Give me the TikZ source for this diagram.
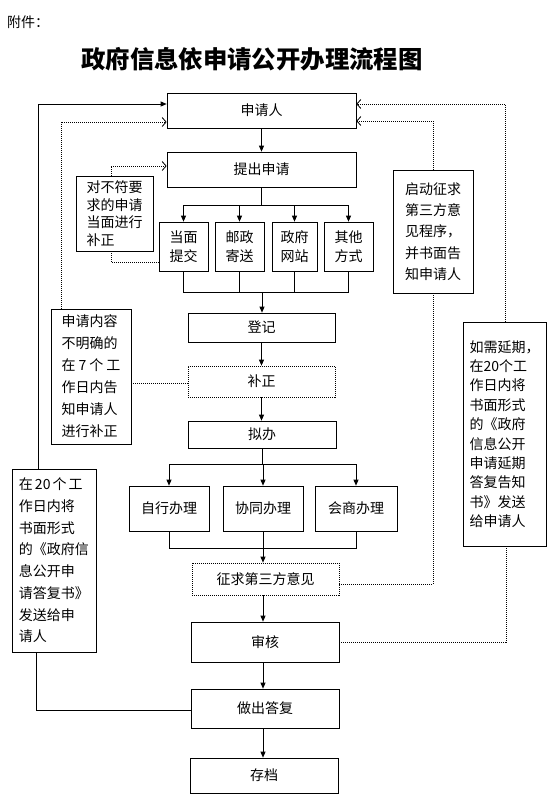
\documentclass[tikz,border=0pt]{standalone}
\usepackage{fontspec}
\newfontfamily\cjk{Noto Sans CJK SC}
\usetikzlibrary{arrows.meta}
\begin{document}
\begin{tikzpicture}[x=1pt,y=-1pt,
  box/.style={draw, line width=0.7pt, inner sep=0pt, font=\cjk\fontsize{14}{16}\selectfont},
  dbox/.style={box, dash pattern=on 1pt off 1pt},
  side/.style={box, align=left},
  small/.style={box, align=center, font=\cjk\fontsize{14}{19}\selectfont, minimum width=49pt, minimum height=49pt},
  mid/.style={box, minimum width=80pt, minimum height=45pt},
  ln/.style={line width=0.7pt},
  arr/.style={ln, -{Triangle[length=6pt,width=5pt]}},
  dl/.style={line width=0.7pt, dash pattern=on 1pt off 1pt},
  darr/.style={dl, -{Straight Barb[length=4pt,width=9pt,line width=0.8pt]}}
]
\useasboundingbox (0,0) rectangle (560,812);
\fill[white] (0,0) rectangle (560,812);

\node[font=\cjk\fontsize{14}{16}\selectfont, anchor=west, inner sep=0pt] (fj) at (7,22) {附件：};
\node[font=\cjk\bfseries\fontsize{24.4}{28}\selectfont, inner sep=0pt] (title) at (252,59) {政府信息依申请公开办理流程图};

% main column
\node[box, minimum width=189pt, minimum height=35pt] (sqr) at (261.5,110.5) {申请人};
\node[box, minimum width=189pt, minimum height=35pt] (tcsq) at (261.5,169.5) {提出申请};
\node[small] (dm) at (183.5,246.5) {当面\\提交};
\node[small] (yz) at (239.5,246.5) {邮政\\寄送};
\node[small, minimum width=45pt] (zf) at (294.5,246.5) {政府\\网站};
\node[small] (qt) at (348.5,246.5) {其他\\方式};
\node[box, minimum width=147pt, minimum height=29pt] (dj) at (261.5,327.5) {登记};
\node[dbox, minimum width=147pt, minimum height=31pt] (bz) at (261.5,381.5) {补正};
\node[box, minimum width=148pt, minimum height=27pt] (nb) at (262,434.5) {拟办};
\node[mid] (zx) at (169,508.5) {自行办理};
\node[mid] (xt) at (263,508.5) {协同办理};
\node[mid, minimum width=82pt] (hs) at (356,508.5) {会商办理};
\node[dbox, minimum width=147pt, minimum height=32pt] (zq) at (265.5,579) {征求第三方意见};
\node[box, minimum width=148pt, minimum height=40pt] (sh) at (265,642) {审核};
\node[box, minimum width=148pt, minimum height=39pt] (zc) at (265,708.5) {做出答复};
\node[box, minimum width=148pt, minimum height=35pt] (cd) at (264,775.5) {存档};

% side boxes
\node[side, font=\cjk\fontsize{14}{17.5}\selectfont, minimum width=77pt, minimum height=75pt] (b1) at (114.5,213.5)
  {对不符要\\求的申请\\当面进行\\补正};
\node[side, font=\cjk\fontsize{14}{22}\selectfont, minimum width=80pt, minimum height=135pt] (b2) at (91,376.5)
  {申请内容\\不明确的\\在\hspace{3pt}7\hspace{3pt}个\hspace{3pt}工\\作日内告\\知申请人\\进行补正};
\node[side, font=\cjk\fontsize{14}{21.7}\selectfont, minimum width=84pt, minimum height=183pt] (b3) at (54,560.5)
  {在\hspace{2pt}20\hspace{2pt}个\hspace{2pt}工\\作日内将\\书面形式\\的《政府信\\息公开申\\请答复书》\\发送给申\\请人};
\node[side, font=\cjk\fontsize{14}{21.25}\selectfont, minimum width=80pt, minimum height=123pt] (b4) at (433,231.5)
  {启动征求\\第三方意\\见程序，\\并书面告\\知申请人};
\node[side, font=\cjk\fontsize{14}{19.4}\selectfont, minimum width=83pt, minimum height=224pt] (b5) at (504.5,434)
  {如需延期，\\在20个工\\作日内将\\书面形式\\的《政府\\信息公开\\申请延期\\答复告知\\书》发送\\给申请人};

% main arrows
\draw[arr] (sqr.south) -- (tcsq.north);
\coordinate (j1) at (261.5,205);
\draw[ln] (tcsq.south) -- (j1);
\draw[ln] (dm.north |- j1) -- (qt.north |- j1);
\foreach \n in {dm,yz,zf,qt} \draw[arr] (\n.north |- j1) -- (\n.north);
\coordinate (j2) at (262,292);
\draw[ln] (dm.south) -- (dm.south |- j2) -- (qt.south |- j2) -- (qt.south);
\draw[ln] (yz.south) -- (yz.south |- j2);
\draw[ln] (zf.south) -- (zf.south |- j2);
\draw[arr] (j2) -- (j2 |- dj.north);
\draw[arr] (dj.south) -- (bz.north);
\draw[arr] (bz.south) -- (bz.south |- nb.north);
\coordinate (j3) at (262,464);
\draw[ln] (nb.south) -- (j3);
\draw[ln] (zx.north |- j3) -- (hs.north |- j3);
\draw[arr] (zx.north |- j3) -- (zx.north);
\draw[arr] (xt.north |- j3) -- (xt.north);
\draw[arr] (hs.north |- j3) -- (hs.north);
\coordinate (j4) at (263,548);
\draw[ln] (zx.south) -- (zx.south |- j4) -- (hs.south |- j4) -- (hs.south);
\draw[arr] (xt.south) -- (xt.south |- zq.north);
\draw[arr] (xt.south |- zq.south) -- (xt.south |- sh.north);
\draw[arr] (xt.south |- sh.south) -- (xt.south |- zc.north);
\draw[arr] (xt.south |- zc.south) -- (xt.south |- cd.north);

% feedback: reply -> b3 -> applicant
\draw[ln] ([yshift=-1.5pt]zc.west) -| ([xshift=-18pt]b3.south);
\draw[arr] ([xshift=-16pt]b3.north) |- ([yshift=6.5pt]sqr.west);
% b2
\draw[darr] ([xshift=-30pt]b2.north) |- ([yshift=-11.5pt]sqr.west);
\draw[dl] ([yshift=-1.5pt]bz.west) -- ([yshift=-1.5pt]bz.west -| b2.east);
% b1
\draw[dl] ([yshift=-15.5pt]dm.west) -| ([xshift=-3.5pt]b1.south);
\draw[darr] ([xshift=-3.5pt]b1.north) |- ([yshift=3.5pt]tcsq.west);
% b4
\draw[dl] ([yshift=-5pt]zq.east) -| (b4.south);
\draw[darr] (b4.north) |- ([yshift=-10.5pt]sqr.east);
% b5
\draw[dl] (sh.east) -| ([xshift=1.5pt]b5.south);
\draw[darr] ([xshift=1pt]b5.north) |- ([yshift=6.5pt]sqr.east);
\end{tikzpicture}
\end{document}
